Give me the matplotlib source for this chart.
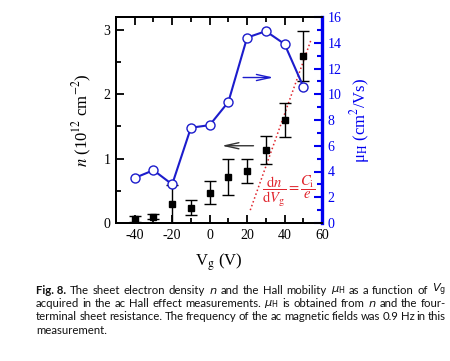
#!/usr/bin/env python3
"""Sheet electron density n and Hall mobility vs gate voltage (ac Hall)."""

import matplotlib
matplotlib.use("Agg")
import matplotlib.pyplot as plt
from matplotlib.ticker import MultipleLocator

# ---- data ----
vg = [-40, -30, -20, -10, 0, 10, 20, 30, 40, 50]
n_density = [0.06, 0.10, 0.29, 0.24, 0.47, 0.71, 0.81, 1.13, 1.60, 2.59]
n_err = [0.05, 0.04, 0.30, 0.12, 0.18, 0.28, 0.19, 0.22, 0.26, 0.39]
mobility = [3.5, 4.1, 3.0, 7.4, 7.6, 9.4, 14.4, 14.9, 13.9, 10.6]

# linear fit dn/dVg = Ci/e (end points)
fit_vg = [21.7, 54.2]
fit_n = [0.20, 2.85]

caption_lines = [
    [("Fig. 8.", "bold"), "The", "sheet", "electron", "density", "$n$", "and", "the",
     "Hall", "mobility", r"$\mu_\mathrm{H}$", "as", "a", "function", "of",
     r"$V_\mathrm{g}$"],
    ["acquired", "in", "the", "ac", "Hall", "effect", "measurements.",
     r"$\mu_\mathrm{H}$", "is", "obtained", "from", "$n$", "and", "the", "four-"],
    ["terminal", "sheet", "resistance.", "The", "frequency", "of", "the", "ac",
     "magnetic", "fields", "was", "0.9", "Hz", "in", "this"],
    ["measurement."],
]

plt.rcParams["font.family"] = ["Liberation Serif", "DejaVu Serif"]
plt.rcParams["mathtext.fontset"] = "stix"
plt.rcParams["axes.unicode_minus"] = False

W, H = 450, 361
fig = plt.figure(figsize=(W / 100, H / 100), dpi=100)
ax = fig.add_axes([116 / W, 1 - 223 / H, (322 - 116) / W, (223 - 17) / H])
ax2 = ax.twinx()

blue = "#1c1ccc"
spine_blue = "#0000f0"
red = "#e0242c"

# n with error bars
ax.errorbar(vg, n_density, yerr=n_err, fmt="s", color="black", ms=5,
            elinewidth=1.0, capsize=4, capthick=1.0, zorder=3)
ax.plot(fit_vg, fit_n, ":", color=red, lw=1.1, zorder=2)

# Hall mobility
ax2.plot(vg, mobility, "-o", color=blue, lw=1.5, ms=6.5, mfc="white",
         mec=blue, mew=1.0, zorder=4)

ax.set_xlim(-50, 60)
ax.set_ylim(0, 3.2)
ax2.set_ylim(0, 16)

ax.xaxis.set_major_locator(MultipleLocator(20))
ax.xaxis.set_minor_locator(MultipleLocator(10))
ax.yaxis.set_major_locator(MultipleLocator(1))
ax.yaxis.set_minor_locator(MultipleLocator(0.5))
ax2.yaxis.set_major_locator(MultipleLocator(2))
ax2.yaxis.set_minor_locator(MultipleLocator(1))

ax.tick_params(which="both", direction="in", top=True, right=False,
               labelsize=10, width=1.3, pad=4)
ax.tick_params(which="major", length=6)
ax.tick_params(which="minor", length=3.5)
ax2.tick_params(which="both", direction="in", colors=spine_blue,
                labelsize=10, width=1.5, pad=4)
ax2.tick_params(which="major", length=6)
ax2.tick_params(which="minor", length=3.5)

for s in ("left", "bottom", "top"):
    ax.spines[s].set_linewidth(1.4)
    ax2.spines[s].set_linewidth(1.4)
ax.spines["right"].set_visible(False)
ax2.spines["right"].set_color(spine_blue)
ax2.spines["right"].set_linewidth(2.4)

ax.set_xlabel(r"V$_\mathrm{g}$ (V)", fontsize=12, labelpad=7)
ax.set_ylabel(r"$n$ (10$^{12}$ cm$^{-2}$)", fontsize=12, labelpad=7)
ax2.set_ylabel(r"μ$_\mathrm{H}$ (cm$^2$/Vs)", fontsize=12, color=spine_blue,
               labelpad=5)

# arrows pointing to the relevant axis
ax2.annotate("", xy=(35.6, 11.3), xytext=(16.4, 11.3),
             arrowprops=dict(arrowstyle="->,head_length=1.0,head_width=0.22",
                             color=blue, lw=1.0))
ax.annotate("", xy=(5.0, 1.2), xytext=(24.9, 1.2),
            arrowprops=dict(arrowstyle="->,head_length=1.0,head_width=0.22",
                            color="#333333", lw=1.0))

ax.text(42.0, 0.5,
        r"$\dfrac{\mathrm{d}n}{\mathrm{d}V_\mathrm{g}}=\dfrac{C_\mathrm{i}}{e}$",
        color=red, fontsize=10.5, ha="center", va="center")

# ---- justified caption ----
renderer = fig.canvas.get_renderer()
cap_left, cap_right = 36, 446
line_y = [290, 303.5, 317, 330.5]
cap_font = ["Lato", "DejaVu Sans"]
for i, words in enumerate(caption_lines):
    items = []
    for w in words:
        weight = "normal"
        if isinstance(w, tuple):
            w, weight = w
        t = fig.text(0, 1 - line_y[i] / H, w, fontsize=8.2, family=cap_font,
                     weight=weight, math_fontfamily="dejavusans", va="center",
                     ha="left", color="#111111")
        items.append(t)
    widths = [t.get_window_extent(renderer).width for t in items]
    if i < len(caption_lines) - 1 and len(items) > 1:
        gap = (cap_right - cap_left - sum(widths)) / (len(items) - 1)
    else:
        gap = 3.0
    x = cap_left
    for t, wd in zip(items, widths):
        t.set_x(x / W)
        x += wd + gap

fig.savefig("out.png", dpi=100)
